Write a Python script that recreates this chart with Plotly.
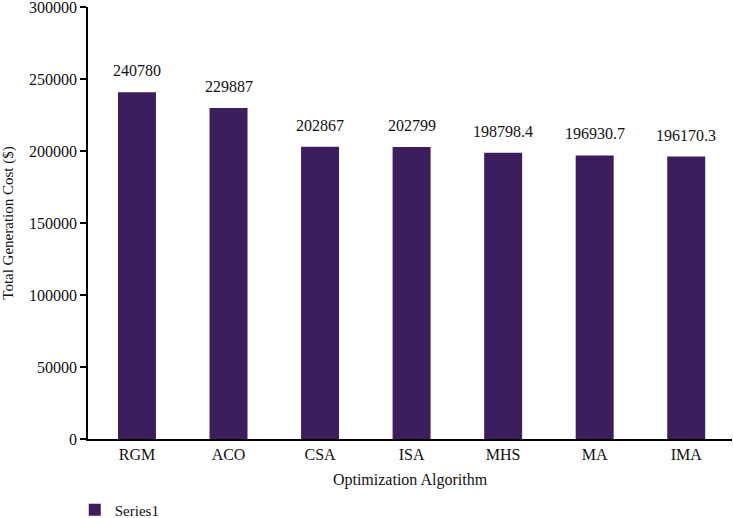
import plotly.graph_objects as go

categories = ["RGM", "ACO", "CSA", "ISA", "MHS", "MA", "IMA"]
values = [240780, 229887, 202867, 202799, 198798.4, 196930.7, 196170.3]
labels = ["240780", "229887", "202867", "202799", "198798.4", "196930.7", "196170.3"]
y_ticks = [0, 50000, 100000, 150000, 200000, 250000, 300000]

color = "#3C1E5C"
font = "Liberation Serif, Times New Roman, serif"

fig = go.Figure()
fig.add_trace(go.Bar(
    x=list(range(len(categories))), y=values, name="Series1",
    marker=dict(color=color, line=dict(width=0)), width=0.415,
))

for i, (v, t) in enumerate(zip(values, labels)):
    fig.add_annotation(x=i, y=v, text=t, showarrow=False, yanchor="bottom",
                       yshift=11, font=dict(family=font, size=16, color="#111"))

fig.update_layout(
    width=733, height=518, autosize=False,
    margin=dict(l=88, r=1, t=7, b=79),
    plot_bgcolor="white", paper_bgcolor="white",
    font=dict(family=font, size=16, color="#111"),
    showlegend=True,
    legend=dict(orientation="h", xref="container", yref="container",
                x=0.102, xanchor="left", y=0.0154, yanchor="middle",
                font=dict(family=font, size=15)),
    xaxis=dict(
        range=[-0.535, 6.5], tickvals=list(range(len(categories))), ticktext=categories,
        showline=True, linecolor="black", linewidth=1.5, showgrid=False, ticks="",
        zeroline=False, automargin=False,
        tickfont=dict(family=font, size=16),
        title=dict(text="Optimization Algorithm", font=dict(family=font, size=16), standoff=12),
    ),
    yaxis=dict(
        range=[0, 300000], tickvals=y_ticks, tickformat="d",
        showline=True, linecolor="black", linewidth=1.5, showgrid=False,
        ticks="outside", ticklen=6, tickwidth=1.5, tickcolor="black", zeroline=False,
        automargin=False, tickfont=dict(family=font, size=16), ticklabeloverflow="allow",
        title=dict(text="Total Generation Cost ($)", font=dict(family=font, size=15), standoff=14),
    ),
)

fig.write_html("out.html", config={"displayModeBar": False, "responsive": False},
               post_script="document.body.style.margin='0';")
